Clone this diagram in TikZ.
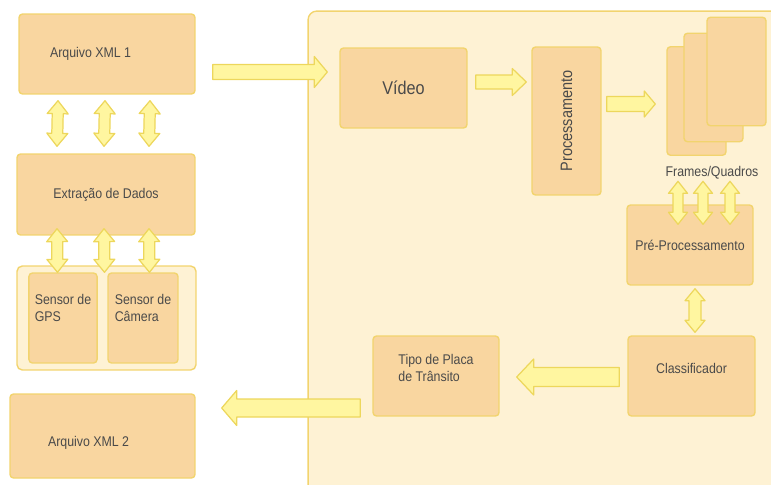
\documentclass[tikz,border=0pt]{standalone}
\usepackage{fontspec}
\setmainfont[FakeStretch=0.88]{Liberation Sans}
\usepackage{xcolor}
\usetikzlibrary{calc}

\definecolor{laranja}{HTML}{F9D6A0}
\definecolor{borda}{HTML}{F2D46E}
\definecolor{creme}{HTML}{FEF2D4}
\definecolor{amarelo}{HTML}{FFF6A0}
\definecolor{bordaseta}{HTML}{EDD75C}
\definecolor{cinza}{HTML}{4A4A4A}

\begin{document}
\begin{tikzpicture}[x=0.02cm, y=-0.02cm,
  every node/.style={font=\fontsize{8}{9.5}\selectfont, text=cinza},
  bloco/.style={draw=borda, fill=laranja, line width=0.8pt, rounded corners=2pt},
  painel/.style={draw=borda, fill=creme, line width=0.8pt, rounded corners=5pt},
  setabase/.style={draw=bordaseta, fill=amarelo, line width=0.7pt, line join=round},
  seta/.style n args={3}{setabase,
    to path={(\tikztostart) coordinate (sa) (\tikztotarget) coordinate (ta)
      ($(ta)!#3!(sa)$) coordinate (ha)
      ($(sa)!#1!90:(ta)$) -- ($(ha)!#1!90:(ta)$) -- ($(ha)!#2!90:(ta)$) -- (ta)
      -- ($(ha)!#2!-90:(ta)$) -- ($(ha)!#1!-90:(ta)$) -- ($(sa)!#1!-90:(ta)$) -- cycle}},
  setadupla/.style n args={3}{setabase,
    to path={(\tikztostart) coordinate (sa) (\tikztotarget) coordinate (ta)
      ($(ta)!#3!(sa)$) coordinate (ha) ($(sa)!#3!(ta)$) coordinate (hb)
      ($(hb)!#1!90:(ta)$) -- ($(ha)!#1!90:(ta)$) -- ($(ha)!#2!90:(ta)$) -- (ta)
      -- ($(ha)!#2!-90:(ta)$) -- ($(ha)!#1!-90:(ta)$) -- ($(hb)!#1!-90:(ta)$)
      -- ($(hb)!#2!-90:(ta)$) -- (sa) -- ($(hb)!#2!90:(ta)$) -- cycle}}]
  \useasboundingbox (0,0) rectangle (771,484);
  \clip (0,0) rectangle (771,484);

  % area de processamento
  \node[painel, minimum width=9.64cm, minimum height=9.78cm] (area) at (549,255.5) {};

  % lado esquerdo
  \node[bloco, minimum height=1.6cm, text width=2.28cm, inner xsep=0.62cm, align=flush left] (xml1) at (107,54) {Arquivo XML 1};
  \node[bloco, minimum width=3.56cm, minimum height=1.62cm] (extr) at (106,194.5) {Extração de Dados};
  \node[painel, rounded corners=3pt, minimum width=3.58cm, minimum height=2.08cm] (grupo) at (106.5,318) {};
  \node[bloco, minimum width=1.36cm, inner ysep=0pt, text height=0.97cm, text depth=0.83cm, align=left] (gps) at (63,318) {Sensor de\\GPS};
  \node[bloco, minimum width=1.4cm, inner ysep=0pt, text height=0.97cm, text depth=0.83cm, align=left] (cam) at (143,318) {Sensor de\\Câmera};
  \node[bloco, inner ysep=0pt, text height=1.04cm, text depth=0.64cm, text width=2.18cm, inner xsep=0.76cm, align=flush left] (xml2) at (102.5,436) {Arquivo XML 2};

  % lado direito
  \node[bloco, minimum width=2.54cm, minimum height=1.6cm, font=\fontsize{10.5}{12}\selectfont] (video) at (403.5,88) {Vídeo};
  \node[bloco, minimum width=1.38cm, minimum height=2.96cm] (proc) at (566.5,121) {\rotatebox{90}{\fontsize{9.4}{11}\selectfont Processamento}};
  \foreach \nome/\x/\y in {f1/696.5/101, f2/713.5/87.5, f3/736.5/71.5}
    \node[bloco, minimum width=1.18cm, minimum height=2.17cm] (\nome) at (\x,\y) {};
  \node (rotulo) at (712,173) {Frames/Quadros};
  \node[bloco, minimum width=2.52cm, minimum height=1.6cm] (pre) at (690,245) {Pré-Processamento};
  \node[bloco, minimum width=2.54cm, inner ysep=0pt, text height=0.74cm, text depth=0.86cm] (clas) at (691.5,376) {Classificador};
  \node[bloco, minimum width=2.52cm, inner ysep=0pt, text height=0.9cm, text depth=0.7cm, align=left] (tipo) at (436,376) {Tipo de Placa\\de Trânsito};

  % setas
  \path[seta={0.15cm}{0.31cm}{0.26cm}] ($(xml1.east)+(17,18)$) to ($(video.west)+(-12,-16)$);
  \foreach \dx in {-49,-2,43} {
    \path[setadupla={0.11cm}{0.21cm}{0.26cm}] ($(xml1.south)+(\dx,6)$) to ($(extr.north)+(\dx,-7)$);
    \path[setadupla={0.11cm}{0.21cm}{0.26cm}] ($(extr.south)+(\dx,-7)$) to ($(grupo.north)+(\dx,7)$);
  }
  \path[seta={0.14cm}{0.27cm}{0.28cm}] ($(video.east)+(8,-6)$) to ($(video.east -| proc.west)+(-5,-6)$);
  \path[seta={0.15cm}{0.26cm}{0.22cm}] ($(proc.east)+(5,-17)$) to ($(proc.east -| f1.west)+(-11,-17)$);
  \foreach \dx in {-12,13,40}
    \path[setadupla={0.1cm}{0.19cm}{0.24cm}] ($(pre.north)+(\dx,-23)$) to ($(pre.north)+(\dx,20)$);
  \path[setadupla={0.12cm}{0.2cm}{0.24cm}] ($(pre.south)+(5,3)$) to ($(clas.north)+(3.5,-3)$);
  \path[seta={0.19cm}{0.36cm}{0.34cm}] ($(clas.west)+(-8,1)$) to ($(tipo.east)+(17,1)$);
  \path[seta={0.18cm}{0.35cm}{0.3cm}] ($(tipo.west)+(-12,32)$) to ($(tipo.west -| xml2.east)+(26,32)$);
\end{tikzpicture}
\end{document}
